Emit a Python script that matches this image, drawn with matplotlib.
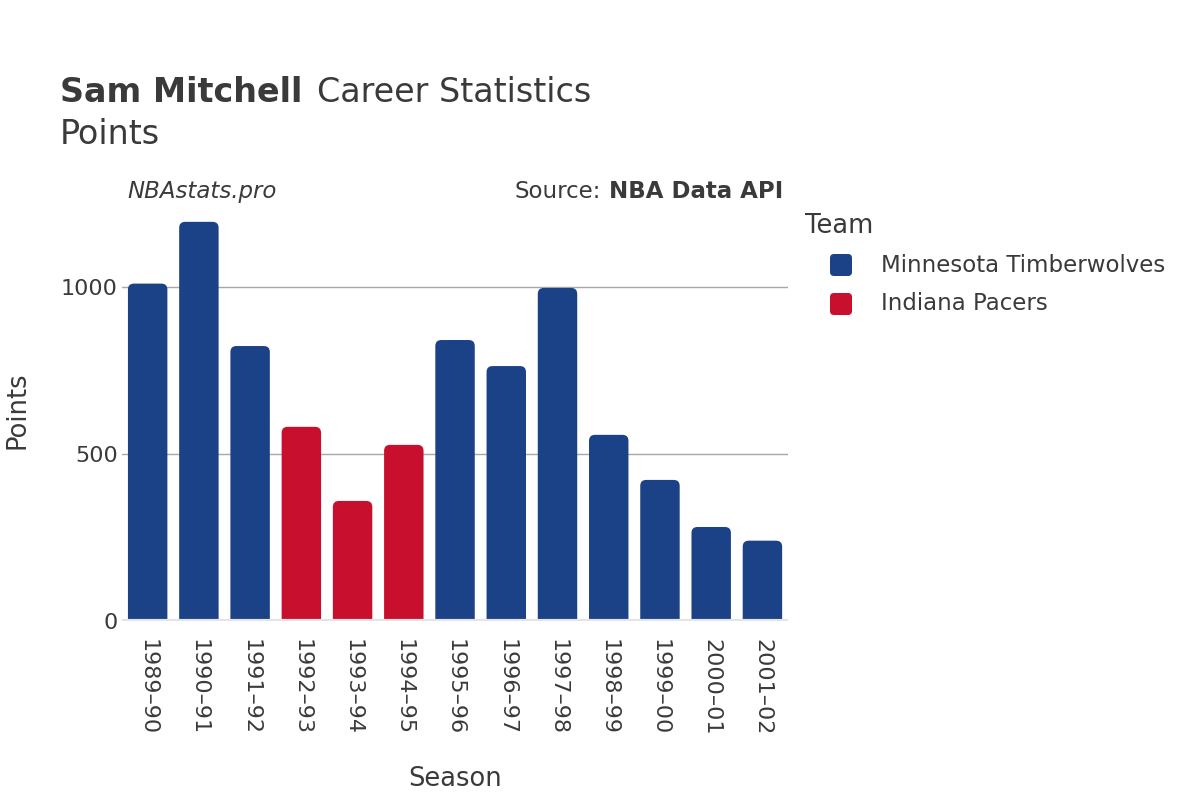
import matplotlib.pyplot as plt
from matplotlib.patches import FancyBboxPatch

seasons = ["1989–90", "1990–91", "1991–92", "1992–93", "1993–94", "1994–95", "1995–96",
           "1996–97", "1997–98", "1998–99", "1999–00", "2000–01", "2001–02"]
points = [1010, 1195, 823, 581, 359, 527, 841, 763, 997, 557, 422, 281, 240]
teams = ["Minnesota Timberwolves", "Minnesota Timberwolves", "Minnesota Timberwolves",
         "Indiana Pacers", "Indiana Pacers", "Indiana Pacers", "Minnesota Timberwolves",
         "Minnesota Timberwolves", "Minnesota Timberwolves", "Minnesota Timberwolves",
         "Minnesota Timberwolves", "Minnesota Timberwolves", "Minnesota Timberwolves"]
team_order = ["Minnesota Timberwolves", "Indiana Pacers"]
team_colors = {"Minnesota Timberwolves": "#1b4287", "Indiana Pacers": "#c8102e"}

text_col = "#3a3a3a"
plt.rcParams['font.family'] = ['DejaVu Sans']

W, H = 1200, 800
fig = plt.figure(figsize=(12, 8), dpi=100)
ax_rect = [0.1017, 0.224, 0.555, 0.525]
ax = fig.add_axes(ax_rect)

ymax = 1258
ax.set_xlim(-0.5, len(seasons) - 0.5)
ax.set_ylim(0, ymax)

# rounded top corners: work out data units per pixel so corners stay round
x_per_px = len(seasons) / (ax_rect[2] * W)
y_per_px = ymax / (ax_rect[3] * H)
asp = y_per_px / x_per_px
bar_w = 0.77
pad = 6 * x_per_px
for i, (v, t) in enumerate(zip(points, teams)):
    p = FancyBboxPatch((i - bar_w / 2 + pad, -50 + pad * asp),
                       bar_w - 2 * pad, v + 50 - 2 * pad * asp,
                       boxstyle=f"round,pad={pad},rounding_size={pad}",
                       mutation_aspect=asp,
                       facecolor=team_colors[t], edgecolor="none", zorder=2, clip_on=True)
    ax.add_patch(p)

for y in [500, 1000]:
    ax.axhline(y, color="#a8a8a8", lw=1, zorder=1)
ax.axhline(0, color="#e4e4e4", lw=3, zorder=3)

for s in ax.spines.values():
    s.set_visible(False)
ax.set_yticks([0, 500, 1000])
ax.set_yticklabels(["0", "500", "1000"])
ax.set_xticks(range(len(seasons)))
ax.set_xticklabels(seasons, rotation=-90)
ax.tick_params(length=0, labelsize=16, labelcolor=text_col)
ax.tick_params(axis='x', pad=13)
ax.tick_params(axis='y', pad=3)

ax.set_xlabel("Season", fontsize=18.5, color=text_col, labelpad=22)
fig.text(0.004, 0.487, "Points", rotation=90, fontsize=18.5, color=text_col, va="center", ha="left")

fig.canvas.draw()
renderer = fig.canvas.get_renderer()

t1 = fig.text(0.05, 0.873, "Sam Mitchell", fontsize=24, fontweight="bold", color=text_col, va="baseline")
bb = t1.get_window_extent(renderer)
fig.text(bb.x1 / W + 0.012, 0.873, "Career Statistics", fontsize=24, color=text_col, va="baseline")
fig.text(0.05, 0.820, "Points", fontsize=24, color=text_col, va="baseline")

fig.text(0.106, 0.753, "NBAstats.pro", fontsize=16.5, style="italic", color=text_col, va="baseline")
t2 = fig.text(0.653, 0.753, "NBA Data API", fontsize=16.5, fontweight="bold", color=text_col,
              va="baseline", ha="right")
bb2 = t2.get_window_extent(renderer)
fig.text(bb2.x0 / W - 0.007, 0.753, "Source:", fontsize=16.5, color=text_col,
         va="baseline", ha="right")

# legend
fig.text(805 / W, 1 - 226 / H, "Team", fontsize=18.5, color=text_col, va="center", ha="left")
for k, t in enumerate(team_order):
    yc = 265 + 39 * k
    sq = 22
    fig.patches.append(FancyBboxPatch(((830) / W, 1 - (yc + sq / 2) / H), sq / W, sq / H,
                                      boxstyle=f"round,pad=0,rounding_size={4 / W}",
                                      mutation_aspect=W / H,
                                      transform=fig.transFigure, facecolor=team_colors[t],
                                      edgecolor="none"))
    fig.text(881 / W, 1 - yc / H, t, fontsize=16.5, color=text_col, va="center", ha="left")

fig.savefig("out.png", dpi=100)
